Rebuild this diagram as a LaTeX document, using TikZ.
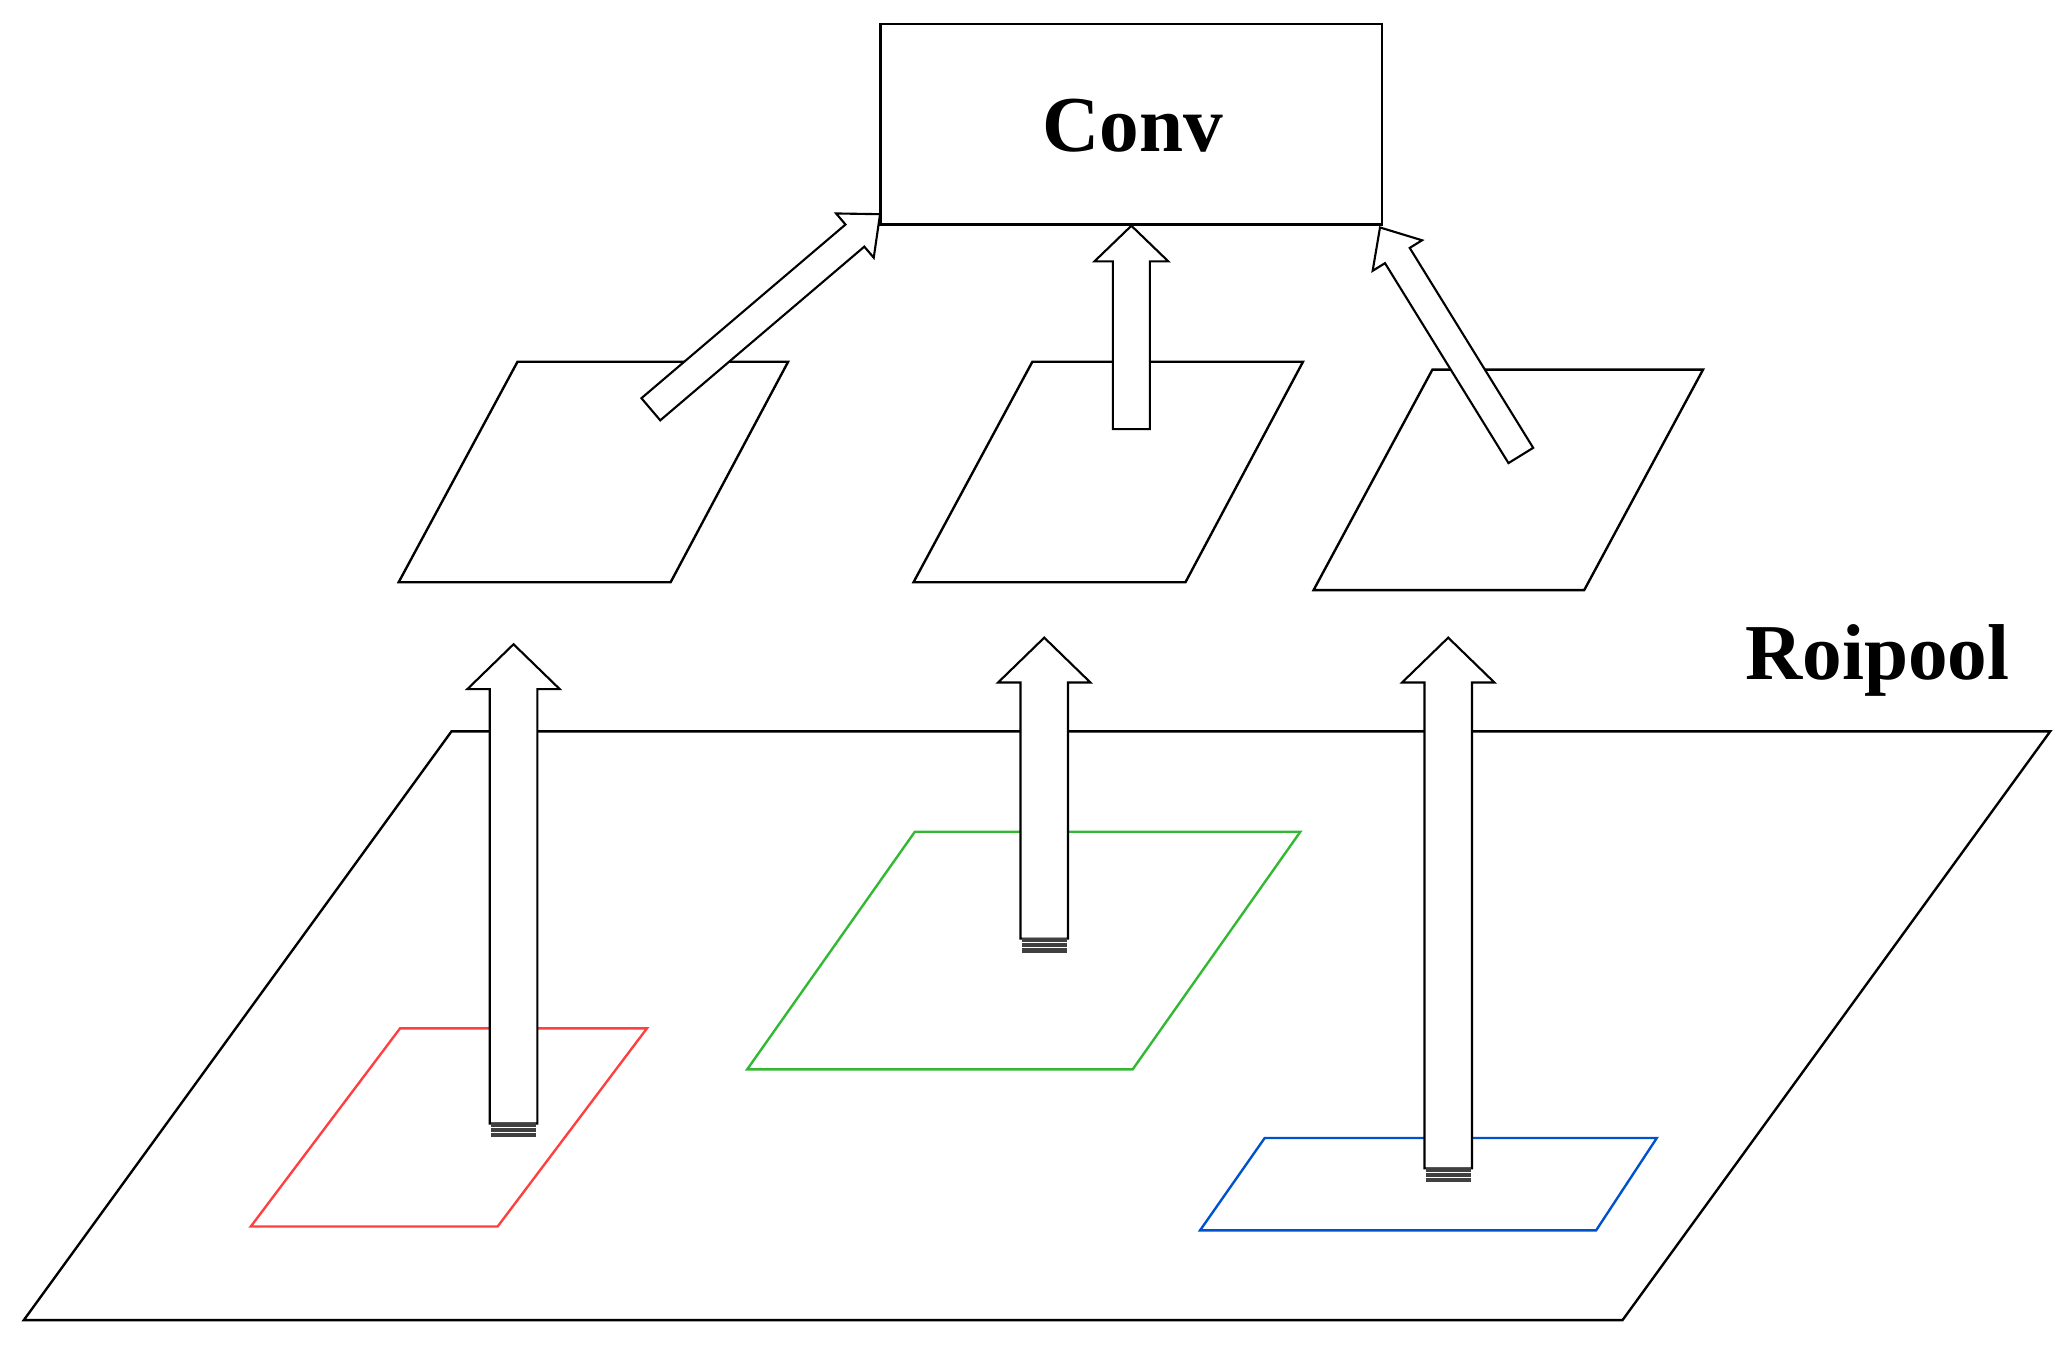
\documentclass[tikz,border=0pt]{standalone}
\usepackage{fontspec}
\setmainfont{Liberation Serif}
\begin{document}
\begin{tikzpicture}[x=0.5pt,y=-0.5pt,
  plane/.style={draw=black,line width=0.9pt},
  arr/.style={draw=black,fill=white,line width=0.8pt},
  lab/.style={font=\fontsize{30}{30}\selectfont\bfseries}]
\useasboundingbox (0,0) rectangle (1568,1030);
\newcommand\blockarrow[7]{% x,y,angle,length,w,h,hl
  \begin{scope}[shift={(#1,#2)},rotate=#3]
  \draw[arr] (0,-#5) -- ({#4-#7},-#5) -- ({#4-#7},-#6) -- (#4,0) -- ({#4-#7},#6) -- ({#4-#7},#5) -- (0,#5) -- cycle;
  \end{scope}}
\newcommand\tailmark[2]{% x,y of tail center
  \draw[black!75,line width=1.6pt] (#1-17,#2+1) -- (#1+17,#2+1);
  \draw[black!75,line width=1.6pt] (#1-17,#2+5) -- (#1+17,#2+5);
  \draw[black!75,line width=1.6pt] (#1-17,#2+9) -- (#1+17,#2+9);}
% planes
\draw[plane] (342,554) -- (1553,554) -- (1229,1000) -- (18,1000) -- cycle;
\draw[plane,red!75] (303,779) -- (490,779) -- (377,929) -- (190,929) -- cycle;
\draw[plane,green!65!black!80] (693,630) -- (985,630) -- (858,810) -- (566,810) -- cycle;
\draw[plane,blue!60!cyan!80!black] (958,862) -- (1255,862) -- (1209,932) -- (909,932) -- cycle;
\draw[plane] (392,274) -- (597,274) -- (508,441) -- (302,441) -- cycle;
\draw[plane] (782,274) -- (987,274) -- (898,441) -- (692,441) -- cycle;
\draw[plane] (1085,280) -- (1290,280) -- (1200,447) -- (995,447) -- cycle;
% conv
\node[draw=black,line width=0.9pt,minimum width=190pt,minimum height=76pt,inner sep=0pt] (conv) at (857,94) {};
\node[lab] (convt) at (858,95) {Conv};
\node[lab] (roi) at (1422,500) {Roipool};
% up arrows
\blockarrow{389}{851}{90}{363}{18}{35}{34}
\tailmark{389}{851}
\blockarrow{791}{711}{90}{228}{18}{35}{34}
\tailmark{791}{711}
\blockarrow{1097}{885}{90}{402}{18}{35}{34}
\tailmark{1097}{885}
% top arrows
\blockarrow{857}{325}{90}{154}{14}{28}{27}
\blockarrow{493}{310}{40.4}{228}{11}{22}{25}
\blockarrow{1152}{345}{121.7}{203}{11}{22}{25}
\end{tikzpicture}
\end{document}
